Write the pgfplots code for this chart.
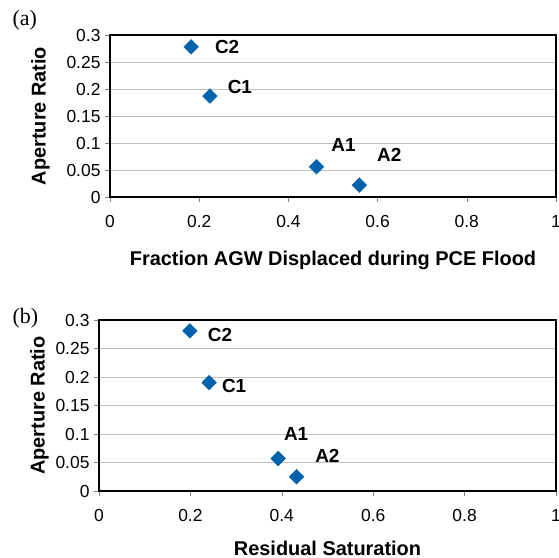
\documentclass[border=0pt]{standalone}
\usepackage{fontspec}
\setmainfont{Liberation Sans}
\newfontfamily\timesfont{Liberation Serif}
\usepackage{pgfplots}
\pgfplotsset{compat=1.18}

\definecolor{markblue}{HTML}{0062AC}
\definecolor{gridgray}{HTML}{BFBFBF}

\begin{document}
\begin{tikzpicture}
  \pgfplotsset{panel/.style={
      scale only axis, xmin=0, xmax=1, ymin=0, ymax=0.3,
      xtick={0,0.2,0.4,0.6,0.8,1}, xticklabels={0,0.2,0.4,0.6,0.8,1},
      ytick={0,0.05,0.1,0.15,0.2,0.25,0.3},
      yticklabels={0,0.05,0.1,0.15,0.2,0.25,0.3},
      ymajorgrids, grid style={gridgray, line width=0.8pt},
      axis line style={black, line width=1.1pt},
      tick style={gray, line width=0.6pt},
      xtick pos=bottom, ytick pos=left, tick align=outside,
      major tick length=5bp,
      tick label style={font=\fontsize{17.5}{19}\selectfont},
      xticklabel style={yshift=-10bp},
      yticklabel style={xshift=-1bp},
      label style={font=\fontsize{20}{22}\selectfont\bfseries},
      nodes near coords, point meta=explicit symbolic,
      every node near coord/.style={font=\fontsize{19}{21}\selectfont\bfseries, anchor=center},
      clip=false}}
  \path[use as bounding box] (0,0) rectangle (559bp,-558bp);

  % panel (a)
  \begin{axis}[panel, at={(110bp,-35bp)}, anchor=north west,
      width=446bp, height=162bp,
      xlabel={Fraction AGW Displaced during PCE Flood},
      xlabel style={yshift=-16bp},
      ylabel={Aperture Ratio}, ylabel style={yshift=10bp}]
    \addplot[only marks, mark=square*, mark size=5.2bp,
      mark options={rotate=45, fill=markblue, draw=markblue},
      visualization depends on={value \thisrow{dx} \as \dx},
      visualization depends on={value \thisrow{dy} \as \dy},
      every node near coord/.append style={xshift=\dx bp, yshift=\dy bp}]
      table[x=x, y=y, meta=lab] {
        x     y      lab dx  dy
        0.182 0.278  C2  36  0
        0.224 0.187  C1  30  9
        0.463 0.056  A1  27  22
        0.559 0.022  A2  30  30
      };
  \end{axis}
  \node[font=\timesfont\fontsize{22}{24}\selectfont, anchor=north west] at (9bp,-7bp) {(a)};

  % panel (b)
  \begin{axis}[panel, at={(99bp,-320bp)}, anchor=north west,
      width=457bp, height=171bp,
      xlabel={Residual Saturation},
      xlabel style={yshift=-12bp},
      ylabel={Aperture Ratio}, ylabel style={yshift=0bp}]
    \addplot[only marks, mark=square*, mark size=5.2bp,
      mark options={rotate=45, fill=markblue, draw=markblue},
      visualization depends on={value \thisrow{dx} \as \dx},
      visualization depends on={value \thisrow{dy} \as \dy},
      every node near coord/.append style={xshift=\dx bp, yshift=\dy bp}]
      table[x=x, y=y, meta=lab] {
        x     y      lab dx  dy
        0.199 0.281  C2  30  -4
        0.241 0.190  C1  25  -3
        0.392 0.057  A1  18  25
        0.432 0.025  A2  31  21
      };
  \end{axis}
  \node[font=\timesfont\fontsize{22}{24}\selectfont, anchor=north west] at (9bp,-305bp) {(b)};
\end{tikzpicture}
\end{document}
